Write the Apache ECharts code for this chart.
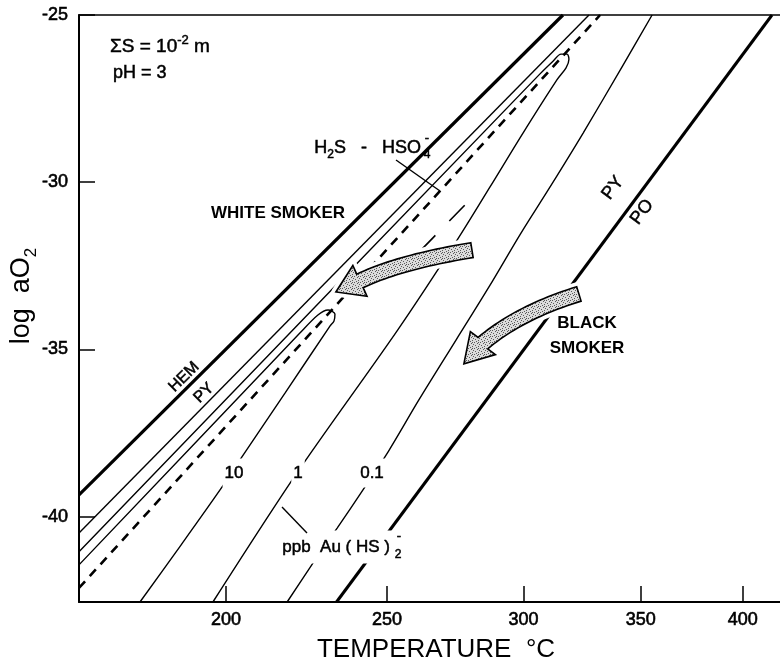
<!DOCTYPE html>
<html>
<head>
<meta charset="utf-8">
<title>Au(HS)2- solubility, log aO2 vs temperature</title>
<script src="https://cdn.jsdelivr.net/npm/echarts@6/dist/echarts.min.js"></script>
<style>
  html, body { margin: 0; padding: 0; background: #fff; }
  #chart { width: 780px; height: 668px; }
</style>
</head>
<body>
<div id="chart"></div>
<script>
// Temperature runs on a reciprocal scale: axis value = -10000 / (t + T0)
const T0 = 360;
const toAxis = t => -10000 / (t + T0);
const fromAxis = u => -10000 / u - T0;

const tempTicks = [200, 250, 300, 350, 400];
const oxyTicks = [-40, -35, -30, -25];
const tempRange = [161.0, 420.1];
const oxyRange = [-42.55, -25];

// mineral stability boundaries, [t degC, log aO2]
const hemPy = [[161.0, -39.35], [316.0, -25]];
const pyPo = [[233.4, -42.55], [415.7, -25]];

// H2S / HSO4- equal-activity line
const sulfateLine = [[161.0, -42.13], [331.8, -25]];
const sulfateLineLong = [[261.4, -32.06], [278.7, -30.59]];

// Au(HS)2- isopleths (ppb)
const au10 = [[161.0, -41.44], [221.9, -34.51], [227.5, -33.97], [230.7, -33.82], [232.9, -33.94],
  [232.6, -34.15], [231.3, -34.30], [217.4, -36.30], [204.0, -38.30], [198.9, -39.11],
  [187.5, -40.84], [176.5, -42.55]];
const au1 = [[161.0, -41.05], [306.6, -26.76], [311.9, -26.38], [315.2, -26.17], [317.7, -26.17],
  [318.5, -26.32], [317.3, -26.58], [313.5, -26.94], [299.8, -28.53], [287.0, -30.14],
  [274.7, -31.73], [253.4, -34.45], [221.0, -38.69], [196.3, -42.55]];
const au01Upper = [[161.0, -40.49], [327.0, -25]];
const au01Lower = [[355.2, -25], [341.5, -26.55], [324.5, -28.53], [310.7, -30.14], [299.0, -31.52],
  [286.6, -33.13], [274.3, -34.72], [261.0, -36.51], [250.4, -38.06], [242.0, -39.20],
  [233.6, -40.34], [226.0, -41.38], [218.0, -42.55]];

// fluid evolution arrows: tail, bend, head base, tip
const whiteSmoker = [[280.2, -32.03], [254.5, -32.38], [241.0, -32.95], [233.2, -33.28]];
const blackSmoker = [[322.7, -33.34], [298.6, -33.88], [284.3, -34.81], [277.2, -35.43]];

const FONT = '"Liberation Sans", Arial, Helvetica, sans-serif';
const chart = echarts.init(document.getElementById('chart'), null, { renderer: 'canvas' });

const xy = pts => pts.map(([t, v]) => [toAxis(t), v]);

function curve(pts, width, type, smooth) {
  return {
    type: 'line', data: xy(pts), showSymbol: false, symbol: 'none',
    smooth: smooth || false, clip: true, silent: true, z: 2,
    lineStyle: { color: '#000', width: width, type: type || 'solid', cap: 'butt' }
  };
}

// light grey stipple for the arrows
function stipple() {
  const c = document.createElement('canvas');
  c.width = c.height = 6;
  const g = c.getContext('2d');
  g.fillStyle = '#dcdcdc';
  g.fillRect(0, 0, 6, 6);
  g.fillStyle = '#5a5a5a';
  [[0, 0], [3, 1], [1, 3], [4, 4], [5, 2], [2, 5], [4, 0]].forEach(([x, y]) => g.fillRect(x, y, 1, 1));
  return c;
}
const stippleFill = { image: stipple(), repeat: 'repeat' };

const arrows = [whiteSmoker, blackSmoker];
const BODY = 15, HEAD = 34;

function arrowOutline(p) {
  const [p0, p1, p2, tip] = p;
  const N = 24, left = [], right = [];
  for (let i = 0; i <= N; i++) {
    const s = i / N, a = (1 - s) * (1 - s), b = 2 * (1 - s) * s, c = s * s;
    const x = a * p0[0] + b * p1[0] + c * p2[0];
    const y = a * p0[1] + b * p1[1] + c * p2[1];
    const dx = 2 * (1 - s) * (p1[0] - p0[0]) + 2 * s * (p2[0] - p1[0]);
    const dy = 2 * (1 - s) * (p1[1] - p0[1]) + 2 * s * (p2[1] - p1[1]);
    const len = Math.hypot(dx, dy) || 1;
    const nx = -dy / len, ny = dx / len;
    left.push([x + nx * BODY / 2, y + ny * BODY / 2]);
    right.push([x - nx * BODY / 2, y - ny * BODY / 2]);
  }
  const hx = tip[0] - p2[0], hy = tip[1] - p2[1];
  const hl = Math.hypot(hx, hy) || 1;
  const nx = -hy / hl, ny = hx / hl;
  const headL = [p2[0] + nx * HEAD / 2, p2[1] + ny * HEAD / 2];
  const headR = [p2[0] - nx * HEAD / 2, p2[1] - ny * HEAD / 2];
  return [...left, headL, tip, headR, ...right.reverse()];
}

const medium = { stroke: '#000', lineWidth: 0.5 };

function text(x, y, str, o) {
  o = o || {};
  return {
    type: 'text', x: x, y: y, rotation: o.rotation || 0, z: 100, silent: true,
    style: Object.assign({
      text: str, fontFamily: FONT, fontSize: o.size || 17, fontWeight: o.weight || 'normal',
      fill: '#000', align: o.align || 'center', verticalAlign: 'middle'
    }, o.weight === 'bold' ? {} : medium, o.style || {})
  };
}
const richBase = {
  n: { fontSize: 18, lineHeight: 26, fontFamily: FONT },
  sub: { fontSize: 12, lineHeight: 12, verticalAlign: 'bottom', fontFamily: FONT }
};
const deg = a => a * Math.PI / 180;
const cut = pad => ({ backgroundColor: '#fff', padding: pad });

const annotations = [
  text(110, 47, '{n|ΣS = 10}{sup|-2}{n| m}', { align: 'left', style: { rich: {
    n: { fontSize: 19, lineHeight: 26, fontFamily: FONT },
    sup: { fontSize: 13, lineHeight: 8, verticalAlign: 'top', fontFamily: FONT } } } }),
  text(113, 73, 'pH = 3', { align: 'left', size: 18 }),
  text(421, 148, '{n|H}{sub|2}{n|S   -   HSO}', { align: 'right', style: { rich: richBase } }),
  text(427, 155, '4', { size: 12 }),
  text(427, 138, '-', { size: 13 }),
  text(278, 213, 'WHITE SMOKER', { size: 17, weight: 'bold' }),
  text(184, 377, 'HEM', { size: 16, rotation: deg(44.4) }),
  text(204, 393, 'PY', { size: 16, rotation: deg(44.4) }),
  text(613, 188, 'PY', { size: 18, rotation: deg(53.4) }),
  text(642, 212, 'PO', { size: 18, rotation: deg(53.4) }),
  text(587, 323, 'BLACK', { size: 17, weight: 'bold' }),
  text(587, 348, 'SMOKER', { size: 17, weight: 'bold' }),
  text(234, 473, '10', { size: 17, style: cut([6, 2]) }),
  text(298, 473, '1', { size: 17, style: cut([6, 2]) }),
  text(372, 473, '0.1', { size: 17, style: cut([6, 2]) }),
  text(392, 547, 'ppb  Au ( HS )', { size: 17, align: 'right', style: cut([8, 2]) }),
  text(398, 555, '2', { size: 12 }),
  text(399, 536, '-', { size: 13 }),
  text(436, 650, 'TEMPERATURE  °C', { size: 26, style: { stroke: null, lineWidth: 0 } }),
  text(22, 296, '{n|log  aO}{sub|2}', { rotation: deg(90), style: { stroke: null, lineWidth: 0, rich: {
    n: { fontSize: 27, lineHeight: 36, fontFamily: FONT },
    sub: { fontSize: 17, lineHeight: 14, verticalAlign: 'bottom', fontFamily: FONT } } } }),
  { type: 'polyline', z: 100, silent: true, shape: { points: [[396, 160], [440, 191]] }, style: { stroke: '#000', lineWidth: 1.4 } },
  { type: 'polyline', z: 100, silent: true, shape: { points: [[282, 507], [307, 533]] }, style: { stroke: '#000', lineWidth: 1.4 } }
];

const tickLabel = {
  fontFamily: FONT, fontSize: 18, color: '#000', textBorderColor: '#000', textBorderWidth: 0.6
};

const option = {
  animation: false,
  backgroundColor: '#fff',
  grid: { left: 79, right: 0, top: 15, bottom: 66, containLabel: false },
  xAxis: [{
    type: 'value', position: 'bottom',
    min: toAxis(tempRange[0]), max: toAxis(tempRange[1]),
    axisLine: { lineStyle: { color: '#000', width: 2 } },
    axisTick: { inside: true, length: 16, lineStyle: { color: '#000', width: 1.5 }, customValues: tempTicks.map(toAxis) },
    axisLabel: Object.assign({ margin: 9, customValues: tempTicks.map(toAxis), formatter: v => String(Math.round(fromAxis(v))) }, tickLabel),
    splitLine: { show: false }
  }, {
    type: 'value', position: 'top',
    min: toAxis(tempRange[0]), max: toAxis(tempRange[1]),
    axisLine: { lineStyle: { color: '#000', width: 1.5 } },
    axisTick: { show: false }, axisLabel: { show: false }, splitLine: { show: false }
  }],
  yAxis: {
    type: 'value', min: oxyRange[0], max: oxyRange[1],
    axisLine: { show: true, lineStyle: { color: '#000', width: 2 } },
    axisTick: { show: true, inside: true, length: 16, lineStyle: { color: '#000', width: 1.5 }, customValues: oxyTicks },
    axisLabel: Object.assign({ margin: 11, customValues: oxyTicks }, tickLabel),
    splitLine: { show: false }
  },
  series: [
    curve(hemPy, 3.2),
    curve(pyPo, 3),
    curve(sulfateLine, 2.6, [9, 7]),
    curve(sulfateLineLong, 1.6, [22, 20]),
    curve(au10, 1.4, 'solid', 0.3),
    curve(au1, 1.4, 'solid', 0.3),
    curve(au01Upper, 1.4),
    curve(au01Lower, 1.4, 'solid', 0.3),
    {
      type: 'custom', silent: true, z: 5, clip: false,
      data: arrows.map(a => [toAxis(a[3][0]), a[3][1]]),
      renderItem(params, api) {
        const pts = arrows[params.dataIndex].map(([t, v]) => api.coord([toAxis(t), v]));
        const outline = arrowOutline(pts);
        return {
          type: 'group', children: [
            { type: 'polygon', shape: { points: outline }, style: { fill: 'none', stroke: '#fff', lineWidth: 9, lineJoin: 'round' } },
            { type: 'polygon', shape: { points: outline }, style: { fill: stippleFill, stroke: '#000', lineWidth: 1.6 } }
          ]
        };
      }
    }
  ],
  graphic: { elements: annotations }
};

chart.setOption(option);
</script>
</body>
</html>
